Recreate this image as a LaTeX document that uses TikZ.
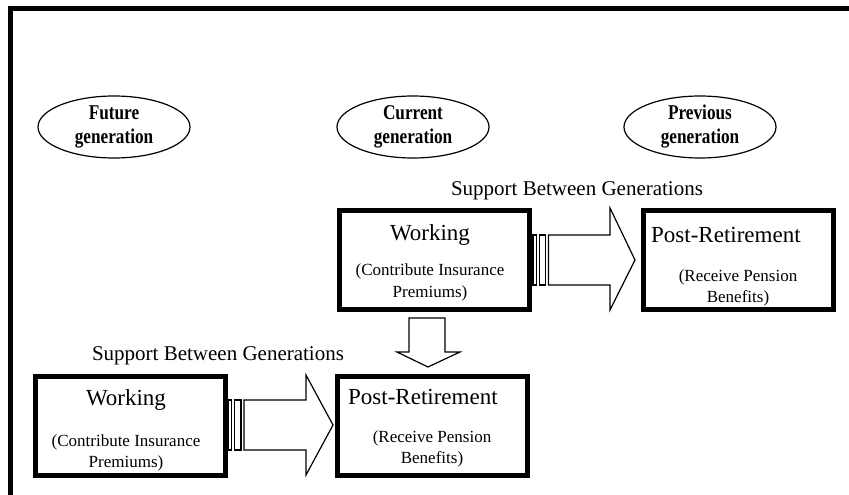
\documentclass[tikz,border=0pt]{standalone}
\usepackage{fontspec}
\setmainfont{Liberation Serif}
\newfontfamily\genfont[FakeStretch=0.82]{Liberation Serif}
\usetikzlibrary{shapes.geometric}
\begin{document}
\begin{tikzpicture}[x=1pt,y=-1pt,
 gen/.style={ellipse,draw,line width=1.2pt,minimum width=152pt,minimum height=62pt,inner sep=0pt,font=\genfont\fontsize{21}{24}\selectfont\bfseries,align=center},
 stagebox/.style={draw,line width=5pt,minimum width=190pt,minimum height=99pt,inner sep=0pt},
 big/.style={font=\fontsize{23}{26}\selectfont,inner sep=0pt,anchor=base},
 small/.style={font=\fontsize{17}{20}\selectfont,inner sep=0pt,anchor=base},
 lbl/.style={font=\fontsize{21}{24}\selectfont,inner sep=0pt,anchor=base},
 blk/.style={draw,line width=1.2pt,fill=white,line join=miter}]
\useasboundingbox (0,0) rectangle (849,495);
\draw[line width=5pt] (10.5,495) -- (10.5,8.5) -- (849,8.5);

\node[gen] (fut) at (114,127) {Future\\generation};
\node[gen] (cur) at (413,127) {Current\\generation};
\node[gen] (prev) at (700,127) {Previous\\generation};

\node[lbl] (sup1) at (577,195) {Support Between Generations};
\node[lbl] (sup2) at (218,360) {Support Between Generations};

\node[stagebox] (w1) at (434.5,260) {};
\node[stagebox] (p1) at (738,260) {};
\node[stagebox] (w2) at (130,426) {};
\node[stagebox] (p2) at (432.5,426) {};

\node[big] (w1a) at (430,240) {Working};
\node[small] (w1b) at (430,275) {(Contribute Insurance};
\node[small] (w1c) at (430,297) {Premiums)};

\node[big,anchor=base west] (p1a) at (651,242) {Post-Retirement};
\node[small] (p1b) at (738,281) {(Receive Pension};
\node[small] (p1c) at (738,302) {Benefits)};

\node[big] (w2a) at (126,405) {Working};
\node[small] (w2b) at (126,446) {(Contribute Insurance};
\node[small] (w2c) at (126,467) {Premiums)};

\node[big,anchor=base west] (p2a) at (348,404) {Post-Retirement};
\node[small] (p2b) at (432,442) {(Receive Pension};
\node[small] (p2c) at (432,463) {Benefits)};

% upper striped arrow
\draw[blk] (533,235) rectangle (536.5,285);
\draw[blk] (539.5,235) rectangle (545.5,285);
\draw[blk] (548.5,235) -- (610,235) -- (610,208) -- (635,260) -- (610,310) -- (610,285) -- (548.5,285) -- cycle;

% lower striped arrow
\draw[blk] (228,400) rectangle (231.5,450);
\draw[blk] (234.5,400) rectangle (241,450);
\draw[blk] (244,400) -- (306,400) -- (306,375) -- (333,425) -- (306,475) -- (306,450) -- (244,450) -- cycle;

% down arrow
\draw[blk] (409,318) -- (445,318) -- (445,352) -- (460,352) -- (428,367) -- (397,352) -- (409,352) -- cycle;
\end{tikzpicture}
\end{document}
